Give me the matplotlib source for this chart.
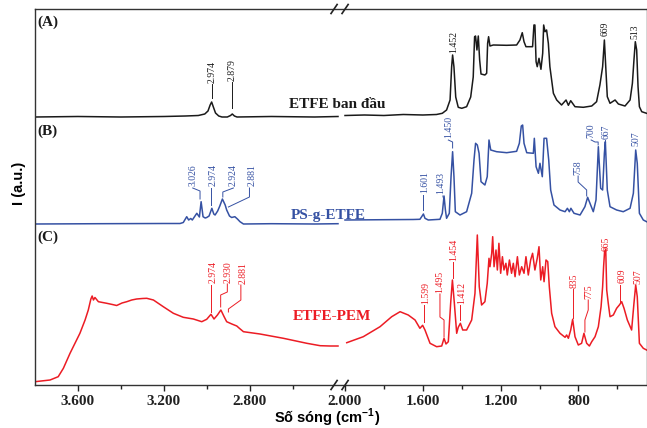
import numpy as np
import matplotlib
matplotlib.use("Agg")
import matplotlib.pyplot as plt
from matplotlib.ticker import FixedLocator, FuncFormatter

# ---------- Data: (wavenumber cm-1, intensity above trace baseline, a.u.) ----------
# (A) ETFE ban dau
a_left = [(3800, 0), (3600, 0.5), (3400, 0), (3200, 0.5), (3100, 1), (3040, 1.5),
          (3010, 3), (2995, 6), (2985, 12), (2978, 15), (2970, 10), (2960, 4),
          (2945, 1), (2930, 0), (2905, 0), (2890, 1.5), (2882, 3), (2872, 1),
          (2860, 0), (2700, 0.5), (2500, 0), (2390, 0.5)]
a_right = [(2000, 1.5), (1900, 2), (1800, 1.5), (1700, 2.5), (1600, 2), (1530, 2.5),
           (1500, 3.7), (1478, 7), (1460, 17), (1452, 50), (1447, 62), (1440, 50),
           (1431, 20), (1418, 9.7), (1400, 8.7), (1375, 10.3), (1354, 20), (1341, 40),
           (1334, 80.3), (1329, 81), (1322, 67), (1315, 81), (1308, 57), (1301, 43),
           (1281, 42), (1272, 43.7), (1267, 73.7), (1262, 80.3), (1255, 71), (1238, 72),
           (1169, 71.7), (1118, 72), (1101, 77), (1089, 84.3), (1080, 75.3), (1070, 70.3),
           (1036, 70.3), (1029, 92), (1024, 92), (1018, 55.3), (1012, 50.3), (1003, 58.7),
           (993, 47.7), (984, 63.7), (979, 92), (972, 85.3), (964, 87), (955, 73.7),
           (947, 50.3), (929, 23.7), (912, 17), (887, 12), (864, 17), (852, 11.7),
           (840, 16.3), (818, 10.3), (775, 9.7), (732, 11), (707, 15.3), (690, 32),
           (676, 50.3), (667, 77), (660, 50.3), (652, 20.3), (638, 13.7), (612, 17),
           (595, 13), (561, 11), (535, 17), (523, 33.7), (515, 57), (508, 75.3),
           (501, 67), (494, 30.3), (487, 10.3), (475, 5.3), (450, 3.7)]

# (B) PS-g-ETFE
b_left = [(3800, 0), (3500, 0.3), (3200, 0.5), (3125, 0.5), (3110, 1.5), (3094, 7.3),
          (3085, 4), (3075, 5.5), (3068, 4), (3047, 10.7), (3035, 7), (3027, 22.3),
          (3018, 7.3), (3008, 6), (3001, 6.5), (2990, 8), (2977, 15.7), (2968, 10),
          (2962, 9), (2950, 13), (2940, 18), (2928, 25), (2915, 19), (2908, 14),
          (2895, 8), (2885, 6.5), (2870, 7.3), (2858, 5), (2846, 2.3), (2830, 0),
          (2700, 0.3), (2500, 0), (2390, 0.3)]
b_right = [(2000, 4), (1800, 4.3), (1650, 4.5), (1615, 4.7), (1606, 7.3), (1597, 10),
           (1589, 5.7), (1572, 4), (1512, 4.7), (1500, 10.7), (1491, 28), (1484, 14),
           (1478, 5.7), (1464, 10.7), (1455, 47.3), (1447, 72.3), (1440, 47.3),
           (1433, 12.3), (1409, 9), (1375, 12.3), (1349, 30.7), (1337, 64), (1329, 80.7),
           (1320, 79), (1311, 70.7), (1301, 42.3), (1281, 39), (1269, 47.3), (1260, 84),
           (1251, 74), (1221, 72.3), (1169, 71.3), (1118, 72.7), (1104, 80.7), (1094, 98),
           (1087, 99), (1080, 80.7), (1066, 71.3), (1032, 70.7), (1027, 85.7), (1018, 57.3),
           (1006, 50.7), (998, 60.7), (986, 47.3), (977, 85.7), (964, 85.7), (953, 64),
           (943, 34), (926, 19), (895, 14), (869, 12.3), (857, 15.7), (847, 12.3),
           (839, 15.7), (823, 10.7), (792, 9), (767, 17.3), (753, 26.7), (741, 20.7),
           (724, 12.3), (710, 24), (698, 77.3), (686, 35.7), (676, 34), (667, 70.7),
           (662, 82.3), (652, 34), (638, 17.3), (604, 14), (570, 12.3), (535, 15.7),
           (518, 30.7), (506, 74), (498, 60.7), (487, 10.7), (467, 4), (450, 2.3)]

# (C) ETFE-PEM
c_left = [(3800, 3.3), (3730, 5), (3692, 8.3), (3668, 16.7), (3637, 31.7), (3591, 51.7),
          (3567, 65), (3552, 75), (3540, 86), (3534, 89), (3528, 85), (3521, 87.5),
          (3505, 83.3), (3466, 81.7), (3440, 80.5), (3420, 79.5), (3395, 82), (3373, 83.3),
          (3350, 85), (3327, 86), (3300, 86.5), (3280, 86.7), (3249, 85), (3203, 78.3),
          (3156, 71.7), (3110, 67.7), (3063, 66), (3024, 63.3), (3001, 65.7), (2981, 70.7),
          (2967, 66), (2951, 70), (2935, 75), (2920, 68.3), (2908, 63.3), (2884, 61),
          (2861, 59), (2849, 56.7), (2830, 53.3), (2753, 51), (2644, 46.7), (2535, 41.7),
          (2473, 39.3), (2427, 39), (2390, 39)]
c_right = [(1991, 42.3), (1906, 48.3), (1820, 58.3), (1760, 68.3), (1717, 73.3), (1675, 70),
           (1640, 65), (1615, 56.7), (1601, 59.7), (1589, 55), (1563, 41.7), (1529, 38.3),
           (1503, 39), (1491, 46.7), (1481, 41), (1469, 43.3), (1457, 81.7), (1448, 105),
           (1438, 81.7), (1426, 51.7), (1418, 57.7), (1407, 61.7), (1395, 55), (1375, 55),
           (1349, 65), (1332, 91.7), (1320, 150), (1310, 98.3), (1298, 80), (1281, 83.3),
           (1269, 101.7), (1260, 126.7), (1255, 118.3), (1246, 131.7), (1241, 148.3),
           (1234, 118.3), (1224, 135), (1217, 115), (1209, 141.7), (1200, 111.7),
           (1191, 128.3), (1183, 115), (1173, 121.7), (1166, 110), (1155, 125),
           (1144, 111.7), (1135, 121.7), (1126, 108.3), (1114, 128.3), (1104, 110),
           (1092, 118.3), (1080, 111.7), (1070, 128.3), (1058, 110), (1046, 125),
           (1036, 131.7), (1024, 115), (1012, 126.7), (1003, 138.3), (994, 105),
           (984, 118.3), (977, 103.3), (967, 125), (958, 123.3), (950, 98.3), (938, 71.7),
           (921, 58.3), (895, 51.7), (869, 47.7), (861, 50), (852, 46.7), (840, 55),
           (830, 65.7), (818, 48.3), (801, 40), (784, 41.7), (772, 51.7), (758, 41.7),
           (744, 39), (732, 43.3), (715, 48.3), (698, 58.3), (684, 78.3), (676, 98.3),
           (671, 118.3), (666, 133.3), (660, 135.7), (655, 95), (647, 81.7), (638, 68.3),
           (621, 70), (604, 76.7), (590, 80), (578, 83.3), (566, 76.7), (549, 65),
           (527, 55), (515, 81.7), (506, 100), (498, 88.3), (487, 41.7), (467, 36.7),
           (450, 35)]

# peak labels: (text, wavenumber of text, y of text bottom, leader polyline)
a_peaks = [("2.974", 2976, 302, [(2976, 301), (2976, 287)]),
           ("2.879", 2885, 304, [(2885, 303), (2885, 277)]),
           ("1.452", 1443, 332, []),
           ("669", 665, 349, []),
           ("513", 509, 346, [])]
b_peaks = [("3.026", 3063, 199, [(3066, 197), (3032, 194), (3032, 186)]),
           ("2.974", 2971, 199, [(2981, 197), (2981, 180)]),
           ("2.924", 2878, 199, [(2877, 197), (2926, 193), (2926, 188)]),
           ("2.881", 2790, 199, [(2802, 197), (2802, 188), (2900, 178)]),
           ("1.601", 1589, 192, [(1599, 190), (1599, 175)]),
           ("1.493", 1508, 191, [(1497, 189), (1493, 186)]),
           ("1.450", 1469, 247, [(1469, 245), (1447, 243), (1447, 237)]),
           ("758", 802, 210, [(802, 209), (802, 203), (758, 195), (758, 189)]),
           ("700", 737, 247, [(735, 245), (715, 243), (699, 243), (699, 240)]),
           ("667", 657, 246, [(662, 245), (662, 242)]),
           ("507", 504, 239, [])]
c_peaks = [("2.974", 2970, 102, [(2981, 100), (2981, 73)]),
           ("2.930", 2900, 102, [(2905, 101), (2905, 93), (2936, 90), (2936, 78)]),
           ("2.881", 2833, 101, [(2842, 100), (2842, 85), (2900, 76), (2900, 73)]),
           ("1.599", 1584, 81, [(1594, 80), (1594, 63)]),
           ("1.495", 1512, 92, [(1512, 91), (1512, 68), (1491, 65), (1491, 48)]),
           ("1.454", 1443, 124, [(1447, 123), (1447, 107)]),
           ("1.412", 1400, 81, [(1409, 80), (1409, 65)]),
           ("835", 823, 97, [(827, 96), (827, 67)]),
           ("775", 745, 86, [(750, 85), (750, 75), (767, 65), (767, 53)]),
           ("665", 659, 134, []),
           ("609", 578, 102, [(587, 100), (587, 83)]),
           ("507", 493, 101, [])]

major_ticks = [3600, 3200, 2800, 2000, 1600, 1200, 800]
minor_ticks = [3400, 3000, 2600, 1800, 1400, 1000, 600]

# ---------- Style ----------
BLACK = "#1a1a1a"
BLUE = "#3551a3"
RED = "#ec1c24"
SERIF = ["Liberation Serif", "DejaVu Serif"]
SANS = ["Liberation Sans", "DejaVu Sans"]
plt.rcParams["mathtext.fontset"] = "custom"
plt.rcParams["mathtext.rm"] = "Liberation Sans:bold"
plt.rcParams["mathtext.bf"] = "Liberation Sans:bold"

# broken x axis: 3800-2390 on the left, 2000-450 on the right
BREAK_WN = [450, 2000, 2390, 3800]
BREAK_U = [0, 301.6, 308.6, 611.6]


def fwd(x):
    return np.interp(x, BREAK_WN, BREAK_U)


def inv(u):
    return np.interp(u, BREAK_U, BREAK_WN)


fig = plt.figure(figsize=(6.47, 4.28), dpi=100)
ax = fig.add_axes([35 / 647, 43 / 428, 611.6 / 647, 376 / 428])
ax.set_xscale("function", functions=(fwd, inv))
ax.set_xlim(3800, 450)
ax.set_ylim(0, 376)

traces = [
    (a_left, a_right, 268, BLACK, a_peaks),
    (b_left, b_right, 161, BLUE, b_peaks),
    (c_left, c_right, 0, RED, c_peaks),
]
for left, right, offset, col, peaks in traces:
    for seg in (left, right):
        arr = np.array(seg, dtype=float)
        ax.plot(arr[:, 0], arr[:, 1] + offset, color=col, lw=1.1)
    for txt, xw, yb, leader in peaks:
        ax.text(xw, yb, txt, rotation=90, ha="center", va="bottom",
                fontsize=7, family=SERIF, color=col)
        if leader:
            pts = np.array(leader, dtype=float)
            ax.plot(pts[:, 0], pts[:, 1], color=col, lw=0.7)

# trace names and panel letters
ax.text(0.494, 0.745, "ETFE ban đầu", transform=ax.transAxes, ha="center", va="center",
        fontsize=11, fontweight="bold", family=SERIF, color=BLACK)
ax.text(0.479, 0.452, "PS-g-ETFE", transform=ax.transAxes, ha="center", va="center",
        fontsize=11, fontweight="bold", family=SERIF, color=BLUE)
ax.text(0.486, 0.181, "ETFE-PEM", transform=ax.transAxes, ha="center", va="center",
        fontsize=11, fontweight="bold", family=SERIF, color=RED)
for lab, yf in [("(A)", 0.965), ("(B)", 0.676), ("(C)", 0.394)]:
    ax.text(0.004, yf, lab, transform=ax.transAxes, ha="left", va="center",
            fontsize=11, fontweight="bold", family=SERIF, color=BLACK)

# axes
ax.xaxis.set_major_locator(FixedLocator(major_ticks))
ax.xaxis.set_minor_locator(FixedLocator(minor_ticks))
ax.xaxis.set_major_formatter(FuncFormatter(lambda v, p: f"{int(round(v)):,}".replace(",", ".")))
ax.tick_params(axis="x", which="both", direction="out", length=4, width=1.0,
               pad=3, colors="#222222", labelsize=11)
ax.tick_params(axis="x", which="minor", length=3)
for lbl in ax.get_xticklabels():
    lbl.set_family(SERIF)
    lbl.set_fontweight("bold")
ax.set_yticks([])
for sp in ax.spines.values():
    sp.set_linewidth(1.0)
    sp.set_color("#333333")

ax.set_xlabel(r"Số sóng (cm$^{-1}$)", fontsize=10.5, fontweight="bold", family=SANS)
ax.xaxis.set_label_coords(0.477, -0.057)
ax.set_ylabel("I (a.u.)", fontsize=10.5, fontweight="bold", family=SANS)
ax.yaxis.set_label_coords(-0.014, 0.537)

# break marks on top and bottom spines
for xf in (0.489, 0.507):
    for yf in (0.0, 1.0):
        ax.plot([xf - 0.005, xf + 0.005], [yf - 0.012, yf + 0.012], transform=ax.transAxes,
                color="#222222", lw=1.2, clip_on=False, zorder=5)

fig.savefig("out.png", dpi=100)
